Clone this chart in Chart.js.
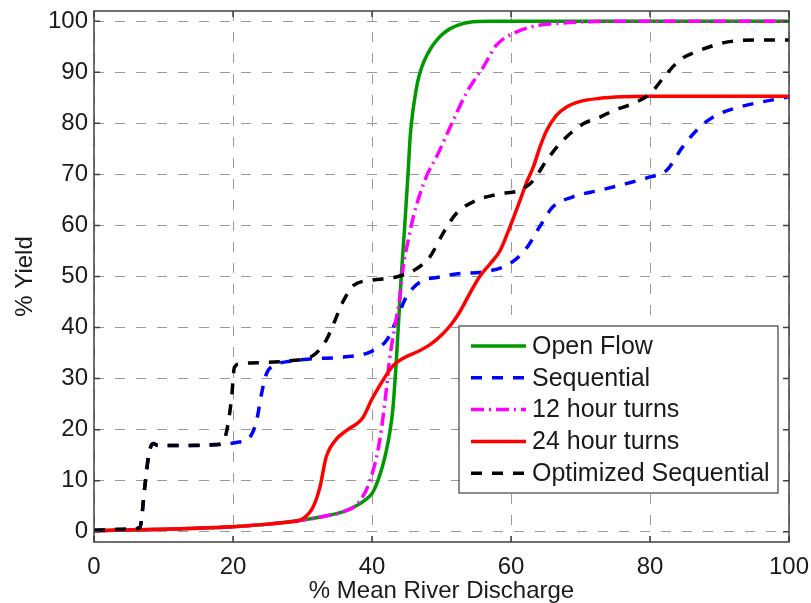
<!DOCTYPE html>
<html>
<head>
<meta charset="utf-8">
<title>% Yield vs % Mean River Discharge</title>
<script src="https://cdn.jsdelivr.net/npm/chart.js@4.4.0/dist/chart.umd.min.js"></script>
<style>
  html, body { margin: 0; padding: 0; background: #fff; }
  #wrap { width: 811px; height: 603px; }
</style>
</head>
<body>
<div id="wrap"><canvas id="yieldChart" width="811" height="603"></canvas></div>
<script>
// tick labels
const xTicks = [0, 20, 40, 60, 80, 100];
const yTicks = [0, 10, 20, 30, 40, 50, 60, 70, 80, 90, 100];

const seriesNames = ['Open Flow', 'Sequential', '12 hour turns', '24 hour turns', 'Optimized Sequential'];

// values (x = % mean river discharge, y = % yield)
const openFlowX = [0, 5, 10, 15, 20, 25, 30, 33, 36, 37, 38, 39, 40, 40.5, 41, 41.5, 42, 42.5, 43, 43.5, 44.2, 44.7, 45.2, 45.5, 45.8, 46.2, 46.6, 47.1, 48, 48.8, 50, 51.2, 52.5, 54, 57, 100];
const openFlowY = [0.2, 0.35, 0.5, 0.7, 1.0, 1.5, 2.3, 3.0, 4.0, 4.6, 5.3, 6.2, 7.5, 8.8, 10.6, 12.8, 15.5, 19, 24, 33.5, 49.9, 59.7, 70.5, 77.5, 81.5, 85.3, 88.3, 90.8, 93.6, 95.4, 97.3, 98.5, 99.3, 99.8, 100, 100];

const sequentialX = [0, 5.1, 6.6, 7.3, 7.9, 8.5, 9.2, 12.4, 17.1, 20.5, 22.4, 23.4, 24.1, 24.8, 25.8, 28.2, 31.5, 35.8, 39.7, 42.1, 43.5, 44.9, 46.9, 49.7, 52.1, 56.5, 59.8, 62.2, 64.1, 66, 68.9, 72.8, 76.6, 80, 82.4, 84.7, 87.2, 89.6, 92.9, 100];
const sequentialY = [0.3, 0.5, 0.8, 8.7, 15.2, 17.3, 16.9, 16.9, 17.0, 17.5, 18.5, 21.8, 27, 30.9, 32.5, 33.4, 33.9, 34.2, 35.2, 37.5, 41.4, 45.9, 48.9, 49.9, 50.5, 51, 52.5, 55.5, 59.7, 63.6, 65.6, 66.9, 68.2, 69.5, 70.8, 75.4, 79.3, 81.6, 83.2, 85.2];

const hour12X = [0, 5, 10, 15, 20, 25, 30, 33, 36, 38, 39.7, 41.1, 42.1, 42.5, 43.4, 44, 44.5, 45.2, 46, 47.8, 49.3, 51.5, 53.6, 55, 56, 57.9, 60.8, 64, 68, 75, 100];
const hour12Y = [0.2, 0.35, 0.5, 0.7, 1.0, 1.5, 2.3, 3.0, 4.0, 5.6, 10, 17.8, 28.3, 33.5, 41, 46, 52, 57, 62, 69.5, 73.5, 80, 86, 89, 91, 95.3, 97.9, 99.2, 99.7, 100, 100];

const hour24X = [0, 5, 10, 15, 20, 25, 28, 30, 31.5, 32.5, 33.4, 34.9, 36.3, 38.7, 40, 41.5, 43, 44.5, 46.9, 48.5, 50.2, 51.5, 52.6, 54, 55.5, 57, 58.4, 59.5, 60.5, 61.3, 62.2, 63.2, 64.2, 65.1, 66.5, 68, 70, 72.8, 76, 80, 100];
const hour24Y = [0.2, 0.35, 0.5, 0.7, 1.0, 1.5, 1.9, 2.5, 4.8, 8.7, 14.6, 18.2, 19.8, 22.4, 26, 29.5, 32.5, 34, 35.5, 36.8, 38.8, 40.8, 43, 46.5, 50, 52.5, 55, 58.5, 62, 64.9, 68.3, 71.4, 75.5, 78.5, 81.5, 83.2, 84.3, 84.9, 85.2, 85.3, 85.3];

const optimizedX = [0, 5.1, 6.6, 7.3, 7.9, 8.5, 9.2, 12.4, 17.6, 18.6, 19.2, 19.8, 20.2, 21, 24.8, 28.2, 31.5, 33.4, 34.4, 35.8, 37.3, 40.1, 43.5, 46.4, 48.3, 50.2, 52.1, 55, 58.4, 61.3, 63.2, 65.1, 67.5, 70.4, 72.8, 74.7, 77.6, 80, 82.4, 84.3, 87.2, 91, 95, 100];
const optimizedY = [0.3, 0.5, 0.8, 8.7, 15.2, 17.3, 16.9, 16.9, 17.1, 17.6, 20.5, 26.3, 32.2, 32.9, 33.2, 33.5, 34.5, 37.5, 40.5, 45, 48.2, 49.3, 49.9, 51.5, 53.8, 58.4, 62.3, 64.9, 66.2, 66.9, 68.8, 72.7, 76.7, 79.9, 81.2, 82.5, 83.9, 85.8, 89.7, 92.4, 94.3, 95.9, 96.3, 96.3];

const FONT = '"Liberation Sans", Arial, Helvetica, sans-serif';
const TEXT = '#1a1a1a';

function toPoints(xs, ys) {
    return xs.map((x, i) => ({ x: x, y: ys[i] }));
}

// frame with inward ticks on all four sides, plus the legend box inside the plot
const frameAndLegend = {
    id: 'frameAndLegend',
    afterDraw(chart) {
        const ctx = chart.ctx;
        const a = chart.chartArea;
        const xs = chart.scales.x, ys = chart.scales.y;
        ctx.save();
        ctx.strokeStyle = '#404040';
        ctx.lineWidth = 1.5;
        ctx.setLineDash([]);
        ctx.strokeRect(a.left, a.top, a.right - a.left, a.bottom - a.top);
        ctx.beginPath();
        xTicks.forEach(v => {
            const px = xs.getPixelForValue(v);
            ctx.moveTo(px, a.bottom); ctx.lineTo(px, a.bottom - 6);
            ctx.moveTo(px, a.top); ctx.lineTo(px, a.top + 6);
        });
        yTicks.forEach(v => {
            const py = ys.getPixelForValue(v);
            ctx.moveTo(a.left, py); ctx.lineTo(a.left + 6, py);
            ctx.moveTo(a.right, py); ctx.lineTo(a.right - 6, py);
        });
        ctx.stroke();

        // legend
        const bx = 459, by = 326, bw = 319, bh = 167;
        ctx.fillStyle = '#fff';
        ctx.fillRect(bx, by, bw, bh);
        ctx.strokeStyle = '#404040';
        ctx.lineWidth = 1.2;
        ctx.strokeRect(bx, by, bw, bh);
        ctx.font = '25px ' + FONT;
        ctx.textBaseline = 'middle';
        ctx.textAlign = 'left';
        chart.data.datasets.forEach((ds, i) => {
            const y = by + 20 + i * 31.8;
            ctx.strokeStyle = ds.borderColor;
            ctx.lineWidth = ds.borderWidth;
            ctx.setLineDash(ds.borderDash || []);
            ctx.beginPath();
            ctx.moveTo(bx + 12, y);
            ctx.lineTo(bx + 67, y);
            ctx.stroke();
            ctx.setLineDash([]);
            ctx.fillStyle = TEXT;
            ctx.fillText(ds.label, bx + 73, y + 1);
        });
        ctx.restore();
    }
};

const datasets = [
    { label: seriesNames[0], data: toPoints(openFlowX, openFlowY), borderColor: '#009900', borderWidth: 3.5, borderDash: [], order: 5 },
    { label: seriesNames[1], data: toPoints(sequentialX, sequentialY), borderColor: '#0000ff', borderWidth: 3.5, borderDash: [11, 10], order: 4 },
    { label: seriesNames[2], data: toPoints(hour12X, hour12Y), borderColor: '#ff00ff', borderWidth: 3.5, borderDash: [13, 5, 2, 5], order: 3 },
    { label: seriesNames[3], data: toPoints(hour24X, hour24Y), borderColor: '#ff0000', borderWidth: 3.5, borderDash: [], order: 2 },
    { label: seriesNames[4], data: toPoints(optimizedX, optimizedY), borderColor: '#000000', borderWidth: 3.5, borderDash: [11, 10], order: 1 }
];
datasets.forEach(d => {
    d.fill = false;
    d.pointRadius = 0;
    d.cubicInterpolationMode = 'monotone';
    d.borderCapStyle = 'butt';
});

const ctx = document.getElementById('yieldChart').getContext('2d');
new Chart(ctx, {
    type: 'line',
    data: { datasets: datasets },
    plugins: [frameAndLegend],
    options: {
        responsive: false,
        animation: false,
        devicePixelRatio: 1,
        layout: { padding: { left: 0, top: 11, right: 22, bottom: 0 } },
        plugins: { legend: { display: false }, tooltip: { enabled: false } },
        scales: {
            x: {
                type: 'linear',
                min: 0,
                max: 100,
                afterBuildTicks: s => { s.ticks = xTicks.map(v => ({ value: v })); },
                afterFit: s => { s.height = 61; s.paddingLeft = 0; s.paddingRight = 0; },
                grid: { color: '#9a9a9a', lineWidth: 1, drawTicks: false },
                border: { display: false, dash: [10, 11] },
                ticks: { padding: 11, color: TEXT, maxRotation: 0, font: { family: FONT, size: 24 } },
                title: { display: true, text: '% Mean River Discharge', color: TEXT, padding: { top: 0, bottom: -3 }, font: { family: FONT, size: 24 } }
            },
            y: {
                type: 'linear',
                min: -2,
                max: 102,
                afterBuildTicks: s => { s.ticks = yTicks.map(v => ({ value: v })); },
                afterFit: s => { s.width = 94; s.paddingTop = 0; s.paddingBottom = 0; },
                grid: { color: '#9a9a9a', lineWidth: 1, drawTicks: false },
                border: { display: false, dash: [10, 11] },
                ticks: { padding: 6, color: TEXT, font: { family: FONT, size: 24 } },
                title: { display: true, text: '% Yield', color: TEXT, padding: { top: 11, bottom: 0 }, font: { family: FONT, size: 24 } }
            }
        }
    }
});
</script>
</body>
</html>
